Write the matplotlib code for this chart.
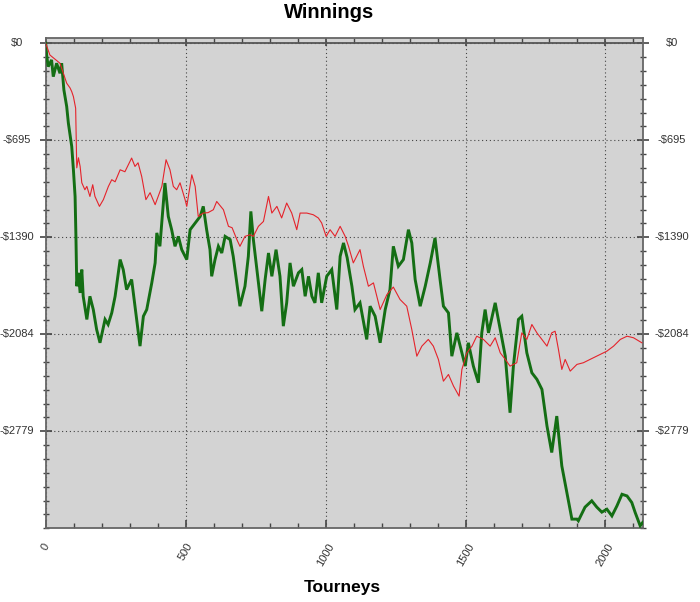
import matplotlib
matplotlib.use("Agg")
import matplotlib.pyplot as plt
from matplotlib.ticker import AutoMinorLocator, MultipleLocator
import matplotlib.transforms as mtransforms

plt.rcParams['font.family'] = ['Liberation Sans', 'DejaVu Sans']

# ---- data ----
red_x = [0, 15, 51, 63, 75, 87, 93, 99, 107, 109, 111, 117, 123, 129, 140, 147, 158, 168, 176, 192,
         206, 224, 236, 248, 266, 283, 307, 319, 330, 343, 358, 373, 391, 402, 415, 430, 444, 456, 468, 480,
         498, 504, 522, 534, 545, 563, 580, 599, 611, 635, 653, 666, 683, 694, 712, 730, 742, 760, 778, 796,
         808, 826, 843, 861, 879, 897, 909, 933, 956, 974, 986, 1002, 1016, 1034, 1052, 1070, 1082, 1099, 1123, 1135,
         1153, 1171, 1195, 1219, 1242, 1266, 1290, 1308, 1326, 1344, 1367, 1385, 1403, 1421, 1439, 1457, 1477, 1487, 1505, 1523,
         1540, 1564, 1588, 1606, 1624, 1642, 1659, 1683, 1701, 1719, 1737, 1755, 1773, 1791, 1808, 1820, 1832, 1844, 1856, 1874,
         1898, 1921, 1945, 1981, 2005, 2029, 2053, 2077, 2100, 2130]
red_y = [0, -84, -143, -215, -286, -320, -346, -382, -465, -691, -892, -820, -882, -999, -1049, -1025, -1097, -1013, -1097, -1168,
         -1120, -1025, -977, -992, -906, -920, -822, -882, -856, -954, -1120, -1070, -1156, -1097, -1025, -834, -906, -1025, -1049, -999,
         -1120, -1168, -942, -1025, -1240, -1216, -1213, -1192, -1133, -1192, -1311, -1321, -1406, -1454, -1383, -1371, -1383, -1311, -1276, -1097,
         -1216, -1168, -1251, -1144, -1216, -1335, -1216, -1216, -1228, -1251, -1287, -1383, -1335, -1383, -1311, -1383, -1454, -1573, -1478, -1597,
         -1740, -1716, -1907, -1800, -1746, -1835, -1883, -2050, -2241, -2169, -2121, -2169, -2264, -2420, -2372, -2455, -2527, -2336, -2217, -2169,
         -2098, -2121, -2169, -2109, -2217, -2264, -2312, -2288, -2074, -2121, -2014, -2074, -2121, -2169, -2074, -2062, -2193, -2336, -2264, -2348,
         -2300, -2288, -2264, -2229, -2205, -2169, -2121, -2098, -2109, -2145]

green_x = [0, 4, 9, 21, 27, 39, 51, 57, 65, 75, 81, 93, 99, 105, 108, 111, 117, 123, 129, 134,
           147, 158, 170, 182, 194, 212, 223, 236, 248, 266, 277, 289, 307, 319, 337, 349, 361, 379, 391, 397,
           408, 426, 438, 450, 462, 474, 486, 504, 516, 534, 552, 563, 575, 587, 593, 605, 617, 629, 641, 659,
           670, 694, 712, 724, 733, 742, 760, 772, 784, 796, 808, 823, 837, 849, 861, 873, 885, 903, 915, 927,
           939, 951, 962, 974, 986, 1004, 1022, 1040, 1052, 1064, 1077, 1094, 1105, 1123, 1147, 1159, 1177, 1195, 1213, 1230,
           1242, 1260, 1278, 1296, 1308, 1320, 1338, 1356, 1374, 1391, 1409, 1421, 1439, 1451, 1469, 1487, 1499, 1510, 1528, 1546,
           1558, 1570, 1582, 1606, 1624, 1642, 1659, 1671, 1689, 1701, 1719, 1737, 1755, 1773, 1791, 1808, 1826, 1844, 1862, 1880,
           1898, 1903, 1927, 1951, 1969, 1987, 2005, 2023, 2041, 2059, 2077, 2094, 2106, 2124, 2133]
green_y = [0, -96, -167, -119, -239, -143, -215, -143, -334, -453, -572, -739, -906, -1097, -1383, -1740, -1644, -1788, -1621, -1812,
           -1978, -1812, -1907, -2050, -2145, -1978, -2014, -1931, -1812, -1549, -1621, -1764, -1692, -1883, -2169, -1955, -1907, -1716, -1573, -1358,
           -1454, -1001, -1240, -1335, -1454, -1383, -1478, -1549, -1335, -1287, -1240, -1168, -1335, -1478, -1669, -1549, -1454, -1502, -1383, -1406,
           -1526, -1883, -1740, -1526, -1204, -1406, -1716, -1919, -1692, -1502, -1669, -1478, -1669, -2026, -1859, -1573, -1740, -1644, -1621, -1812,
           -1669, -1812, -1859, -1644, -1859, -1669, -1621, -1907, -1526, -1430, -1535, -1740, -1907, -1859, -2121, -1883, -1955, -2145, -1907, -1764,
           -1454, -1597, -1549, -1335, -1430, -1692, -1883, -1740, -1573, -1394, -1692, -1883, -1931, -2241, -2074, -2217, -2312, -2145, -2312, -2431,
           -2074, -1907, -2074, -1859, -2050, -2241, -2646, -2312, -1978, -1955, -2217, -2360, -2407, -2479, -2741, -2931, -2670, -3027, -3217, -3408,
           -3408, -3420, -3322, -3277, -3322, -3358, -3337, -3385, -3313, -3230, -3242, -3289, -3360, -3456, -3432]

ytick_values = [0, -694.75, -1389.5, -2084.25, -2779]
ytick_labels = ['$0', '-$695', '-$1390', '-$2084', '-$2779']
xtick_values = [0, 500, 1000, 1500, 2000]
xtick_labels = ['0', '500', '1000', '1500', '2000']

# ---- figure ----
W, H = 700, 602
fig = plt.figure(figsize=(W / 100, H / 100), dpi=100)
left, right, top, bottom = 45.7, 642.7, 37.7, 528.3
ax = fig.add_axes([left / W, 1 - bottom / H, (right - left) / W, (bottom - top) / H])
ax.set_facecolor('#D3D3D3')

ax.plot(green_x, green_y, color='#146E14', lw=2.1, zorder=3, solid_joinstyle='miter')
ax.plot(red_x, red_y, color='#E5232B', lw=0.8, zorder=4)

ax.set_xlim(0, 2133)
ax.set_ylim(-3473.75, 40)

ax.axhline(0, color='#555555', lw=1.3, zorder=2)

# ticks
ax.set_xticks(xtick_values)
ax.set_xticklabels(xtick_labels, rotation=60, ha='center', va='top', fontsize=8, color='#333333')
ax.xaxis.set_minor_locator(MultipleLocator(100))
ax.tick_params(axis='x', which='major', direction='in', length=6, width=1.2, color='#444444',
               pad=9.5, top=True, bottom=True)
ax.tick_params(axis='x', which='minor', direction='in', length=3.5, width=1.0, color='#444444',
               top=True, bottom=True)

ax.set_yticks(ytick_values)
ax.set_yticklabels([])
ax.yaxis.set_minor_locator(AutoMinorLocator(7))
ax.tick_params(axis='y', which='major', direction='inout', length=8, width=1.2, color='#444444',
               left=True, right=True)
ax.tick_params(axis='y', which='minor', direction='inout', length=5, width=1.0, color='#444444',
               left=True, right=True)

trans = mtransforms.blended_transform_factory(fig.transFigure, ax.transData)
for v, lab in zip(ytick_values, ytick_labels):
    fig.text(16.5 / W, v, lab, transform=trans, ha='center', va='center', fontsize=8, color='#333333')
    fig.text(671.5 / W, v, lab, transform=trans, ha='center', va='center', fontsize=8, color='#333333')

# grid
ax.grid(True, which='major', color='#444444', lw=0.8, linestyle=(0, (1, 2.5)), zorder=1)
ax.set_axisbelow(True)

for s in ax.spines.values():
    s.set_color('#666666')
    s.set_linewidth(1.3)

fig.text(329 / W, 1 - 18 / H, 'Winnings', ha='center', va='baseline', fontsize=14.5, fontweight='bold')
fig.text(342.5 / W, 1 - 592 / H, 'Tourneys', ha='center', va='baseline', fontsize=12.5, fontweight='bold')

fig.savefig('out.png', dpi=100)
